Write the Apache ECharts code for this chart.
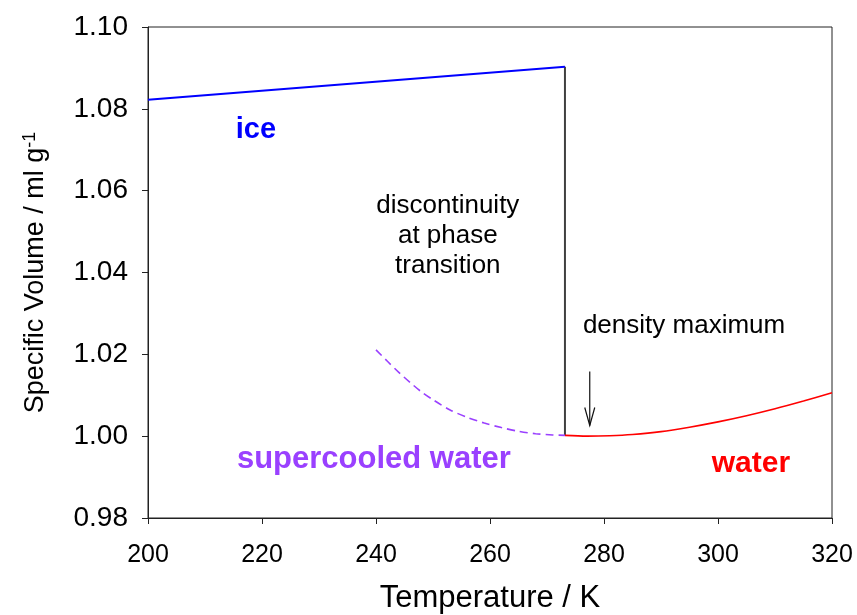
<!DOCTYPE html>
<html>
<head>
<meta charset="utf-8">
<script src="https://cdn.jsdelivr.net/npm/echarts@6/dist/echarts.min.js"></script>
<style>
  html, body { margin: 0; padding: 0; background: #fff; }
  #chart { width: 857px; height: 615px; }
</style>
</head>
<body>
<div id="chart"></div>
<script>
// Specific volume of H2O (ml/g) against temperature (K)
const iceTemps = [200, 273.15];
const iceVolume = [1.0822, 1.0903];

const supercooledTemps = [240, 242, 244, 246, 248, 250, 253, 256, 259, 262, 265, 268, 271, 273.15];
const supercooledVolume = [1.0211, 1.0183, 1.0156, 1.0131, 1.0108, 1.0089, 1.0064, 1.0046, 1.0032, 1.0021, 1.0012, 1.0006, 1.0003, 1.0002];

const waterTemps = [273.15, 277, 281, 285, 290, 295, 300, 305, 310, 315, 320];
const waterVolume = [1.0002, 1.0000, 1.0001, 1.0004, 1.0011, 1.0022, 1.0035, 1.0050, 1.0067, 1.0086, 1.0106];

// melting point step and density-maximum pointer
const meltingPoint = 273.15;
const densityMaxTemp = 277.5;
const arrowFrom = 1.0158;
const arrowTo = 1.0026;

const xTicks = [200, 220, 240, 260, 280, 300, 320];
const yTicks = [0.98, 1.00, 1.02, 1.04, 1.06, 1.08, 1.10];

const pairs = (xs, ys) => xs.map((x, i) => [x, ys[i]]);

const font = '"Liberation Sans", Arial, sans-serif';
const chart = echarts.init(document.getElementById('chart'));

const noBorder = { textBorderWidth: 0, textBorderColor: 'transparent', textShadowBlur: 0 };

chart.setOption({
  animation: false,
  backgroundColor: '#fff',
  grid: {
    left: 148, right: 25, top: 27, bottom: 97,
    containLabel: false, outerBoundsMode: 'none',
    show: true, borderColor: '#222', borderWidth: 1, backgroundColor: 'transparent'
  },
  xAxis: {
    type: 'value',
    min: xTicks[0], max: xTicks[xTicks.length - 1], interval: 20,
    name: 'Temperature / K',
    nameLocation: 'middle', nameGap: 65,
    nameTextStyle: { fontFamily: font, fontSize: 31, color: '#000' },
    axisLine: { show: true, lineStyle: { color: '#222', width: 1 } },
    axisTick: { show: true, inside: false, length: 6, lineStyle: { color: '#222' } },
    axisLabel: { fontFamily: font, fontSize: 25, color: '#000', margin: 25 },
    splitLine: { show: false }
  },
  yAxis: {
    type: 'value',
    min: yTicks[0], max: yTicks[yTicks.length - 1], interval: 0.02,
    name: 'Specific Volume / ml g{sup|-1}',
    nameLocation: 'middle', nameGap: 97,
    nameTextStyle: {
      fontFamily: font, fontSize: 27, color: '#000',
      rich: { sup: { fontFamily: font, fontSize: 18, color: '#000', verticalAlign: 'top', padding: [0, 0, 12, 0] } }
    },
    axisLine: { show: true, lineStyle: { color: '#222', width: 1 } },
    axisTick: { show: true, inside: false, length: 6, lineStyle: { color: '#222' } },
    axisLabel: { fontFamily: font, fontSize: 28, color: '#000', margin: 20, formatter: v => v.toFixed(2) },
    splitLine: { show: false }
  },
  series: [
    {
      name: 'ice', type: 'line', data: pairs(iceTemps, iceVolume),
      symbol: 'none', lineStyle: { color: '#0000ff', width: 2 }, z: 3
    },
    {
      name: 'transition', type: 'line',
      data: [[meltingPoint, iceVolume[iceVolume.length - 1]], [meltingPoint, waterVolume[0]]],
      symbol: 'none', lineStyle: { color: '#404040', width: 2 }, z: 2
    },
    {
      name: 'supercooled water', type: 'line', data: pairs(supercooledTemps, supercooledVolume),
      symbol: 'none', smooth: 0.3,
      lineStyle: { color: '#9a40ff', width: 1.6, type: [8, 5] }, z: 3
    },
    {
      name: 'water', type: 'line', data: pairs(waterTemps, waterVolume),
      symbol: 'none', smooth: 0.3, lineStyle: { color: '#ff0000', width: 1.6 }, z: 3
    },
    {
      // downward pointer with an open head
      name: 'pointer', type: 'custom', data: [[densityMaxTemp, arrowFrom, arrowTo]],
      renderItem: (params, api) => {
        const top = api.coord([api.value(0), api.value(1)]);
        const tip = api.coord([api.value(0), api.value(2)]);
        const style = { stroke: '#111', lineWidth: 1.2, fill: null };
        return {
          type: 'group',
          children: [
            { type: 'line', shape: { x1: top[0], y1: top[1], x2: tip[0], y2: tip[1] }, style },
            { type: 'polyline', shape: { points: [[tip[0] - 5, tip[1] - 18], [tip[0], tip[1]], [tip[0] + 5, tip[1] - 18]] }, style }
          ]
        };
      },
      z: 4
    },
    {
      name: 'labels', type: 'scatter', symbolSize: 0, silent: true,
      itemStyle: { opacity: 1 },
      data: [
        { value: [215.4, 1.0749], label: { formatter: 'ice', color: '#0000ff', fontWeight: 'bold', fontSize: 29, align: 'left' } },
        { value: [252.6, 1.0489], label: { formatter: 'discontinuity\nat phase\ntransition', color: '#000', fontSize: 26, lineHeight: 30, align: 'center' } },
        { value: [276.3, 1.0270], label: { formatter: 'density maximum', color: '#000', fontSize: 26, align: 'left' } },
        { value: [215.6, 0.9943], label: { formatter: 'supercooled water', color: '#9a40ff', fontWeight: 'bold', fontSize: 31, align: 'left' } },
        { value: [298.9, 0.9933], label: { formatter: 'water', color: '#ff0000', fontWeight: 'bold', fontSize: 30, align: 'left' } }
      ],
      label: Object.assign({ show: true, position: 'inside', fontFamily: font, verticalAlign: 'middle' }, noBorder),
      z: 5
    }
  ]
});
</script>
</body>
</html>
